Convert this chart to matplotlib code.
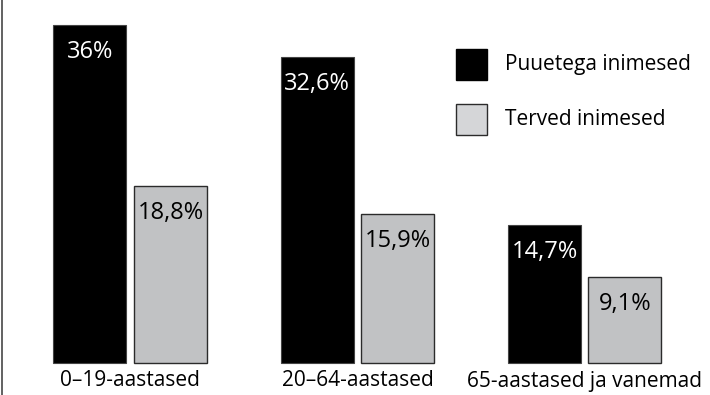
import matplotlib
matplotlib.use("Agg")
import matplotlib.pyplot as plt
from matplotlib.patches import Rectangle
import numpy as np

categories = ["0–19-aastased", "20–64-aastased", "65-aastased ja vanemad"]
series_names = ["Puuetega inimesed", "Terved inimesed"]
disabled = [36.0, 32.6, 14.7]
healthy = [18.8, 15.9, 9.1]
disabled_labels = ["36%", "32,6%", "14,7%"]
healthy_labels = ["18,8%", "15,9%", "9,1%"]

plt.rcParams["font.family"] = ["Open Sans", "DejaVu Sans"]

W, H, DPI = 710, 395, 100
fig = plt.figure(figsize=(W / DPI, H / DPI), dpi=DPI)
ax = fig.add_axes([2 / W, 0, 1 - 2 / W, 1])

px_per_unit = 9.4
ax.set_ylim(-32 / px_per_unit, (H - 32) / px_per_unit)
group_px = 227.25
ax.set_xlim((2 - 130.25) / group_px, (W - 130.25) / group_px)

x = np.arange(len(categories))
width = 73 / group_px
offset = 40.25 / group_px

black_col, grey_col, legend_grey = "black", "#c1c2c4", "#d5d6d8"

ax.bar(x - offset, disabled, width, color=black_col, edgecolor="#444444", linewidth=0.8)
ax.bar(x + offset, healthy, width, color=grey_col, edgecolor="#2b2b2b", linewidth=1.0)

lbl_drop = 27 / px_per_unit
for xi, v, t in zip(x - offset, disabled, disabled_labels):
    ax.text(xi, v - lbl_drop, t, ha="center", va="center", color="white", fontsize=17)
for xi, v, t in zip(x + offset, healthy, healthy_labels):
    ax.text(xi, v - lbl_drop, t, ha="center", va="center", color="black", fontsize=17)

for xi, c in zip(x, categories):
    ax.text(xi, -18 / px_per_unit, c, ha="center", va="center", fontsize=15)

for s in ["top", "right", "bottom"]:
    ax.spines[s].set_visible(False)
ax.spines["left"].set_color("#555555")
ax.spines["left"].set_linewidth(1.3)
ax.set_xticks([])
ax.set_yticks([])

# legend drawn in figure pixel space
def fx(px):
    return px / W

def fy(py):
    return 1 - py / H

legend_rows = [(49, black_col, "black"), (104, legend_grey, "#2b2b2b")]
for (top, face, edge), name in zip(legend_rows, series_names):
    fig.patches.append(Rectangle((fx(456), fy(top + 31)), 31 / W, 31 / H,
                                 facecolor=face, edgecolor=edge, linewidth=1.0,
                                 transform=fig.transFigure))
    fig.text(fx(505), fy(top + 15.5), name, ha="left", va="center", fontsize=15)

fig.savefig("out.png", dpi=DPI)
